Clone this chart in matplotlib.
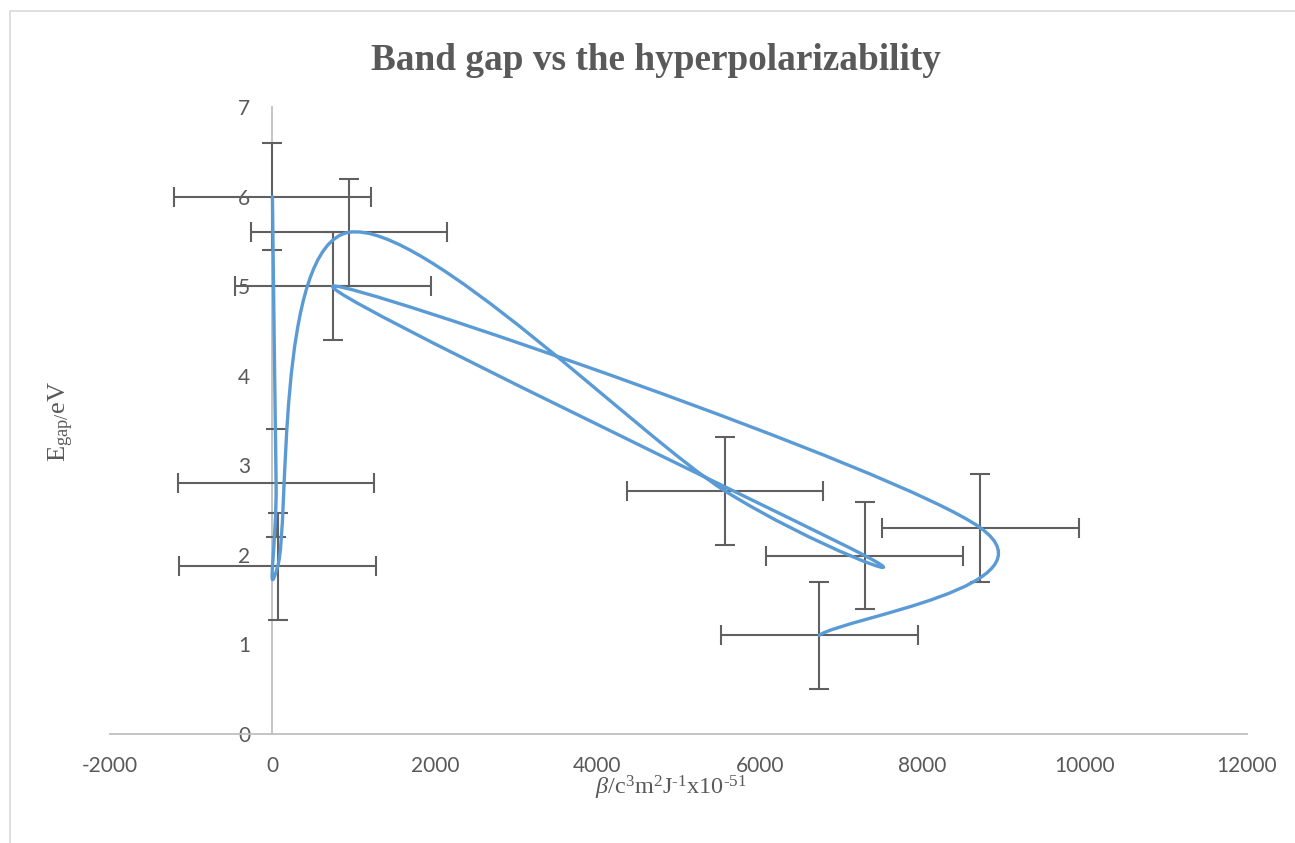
import numpy as np
import matplotlib
matplotlib.use("Agg")
import matplotlib.pyplot as plt
from matplotlib.path import Path
from matplotlib.patches import PathPatch, Rectangle

# beta (c^3 m^2 J^-1 x 1e-51) and band gap (eV), in plotting order
beta = [0, 45, 65, 942, 5575, 7293, 747, 8717, 6733]
egap = [6.0, 2.8, 1.87, 5.6, 2.71, 1.99, 5.0, 2.30, 1.10]

# standard-error bars
beta_err = 1210
egap_err = 0.6

x_ticks = [-2000, 0, 2000, 4000, 6000, 8000, 10000, 12000]
y_ticks = [0, 1, 2, 3, 4, 5, 6, 7]

TEXT_GREY = '#595959'
AXIS_GREY = '#bfbfbf'
LINE_BLUE = '#5b9bd5'

plt.rcParams['axes.unicode_minus'] = False
plt.rcParams['mathtext.fontset'] = 'custom'
plt.rcParams['mathtext.rm'] = 'Liberation Serif'
plt.rcParams['mathtext.it'] = 'Liberation Serif:italic'
plt.rcParams['mathtext.default'] = 'rm'


def smooth_path(xs, ys):
    """Bezier path through the points, Excel-style smoothed line."""
    pts = np.column_stack([xs, ys]).astype(float)
    ext = np.vstack([pts[0], pts, pts[-1]])
    verts = [pts[0]]
    codes = [Path.MOVETO]
    for i in range(len(pts) - 1):
        p0, p1, p2, p3 = ext[i], ext[i + 1], ext[i + 2], ext[i + 3]
        verts += [p1 + (p2 - p0) / 6, p2 - (p3 - p1) / 6, p2]
        codes += [Path.CURVE4] * 3
    return Path(verts, codes)


fig = plt.figure(figsize=(12.95, 8.43), dpi=100)
ax = fig.add_axes([110 / 1295, 1 - 733.7 / 843, 1137 / 1295, 626.7 / 843])

ax.set_xlim(-2000, 12000)
ax.set_ylim(0, 7)
ax.set_xticks(x_ticks)
ax.set_yticks(y_ticks)

for side in ('top', 'right'):
    ax.spines[side].set_visible(False)
ax.spines['left'].set_position(('data', 0))
for side in ('left', 'bottom'):
    ax.spines[side].set_color(AXIS_GREY)
    ax.spines[side].set_linewidth(1.3)

ax.tick_params(length=0, pad=16, labelcolor=TEXT_GREY, labelsize=15)
for lab in ax.get_xticklabels() + ax.get_yticklabels():
    lab.set_fontfamily('Lato')

ax.errorbar(beta, egap, xerr=beta_err, yerr=egap_err, fmt='none',
            ecolor='#606060', elinewidth=1.5, capsize=7.5, capthick=1.5, zorder=3)

ax.add_patch(PathPatch(smooth_path(beta, egap), facecolor='none', edgecolor=LINE_BLUE,
                       lw=2.4, capstyle='round', joinstyle='round', zorder=4))

fig.text(656 / 1295, 1 - 70 / 843, 'Band gap vs the hyperpolarizability',
         ha='center', va='baseline', fontsize=26.8, fontweight='bold',
         family='Liberation Serif', color=TEXT_GREY)

fig.text(671 / 1295, 1 - 794 / 843, '$\\mathit{\\beta}$/c$^3$m$^2$J$^{\u2010 1}$x10$^{\u201051}$',
         ha='center', va='baseline', fontsize=17.5, family='Liberation Serif',
         color=TEXT_GREY)
fig.text(76 / 1295, 1 - 421 / 843, 'E$_{gap/}$eV', rotation=90,
         ha='right', va='center', fontsize=19, family='Liberation Serif',
         color=TEXT_GREY)

# chart area frame
fig.add_artist(Rectangle((10 / 1295, -0.2), 1.2, 1.2 - 11 / 843, transform=fig.transFigure,
                         facecolor='none', edgecolor='#d9d9d9', lw=1.2))

fig.savefig('out.png', dpi=100)
